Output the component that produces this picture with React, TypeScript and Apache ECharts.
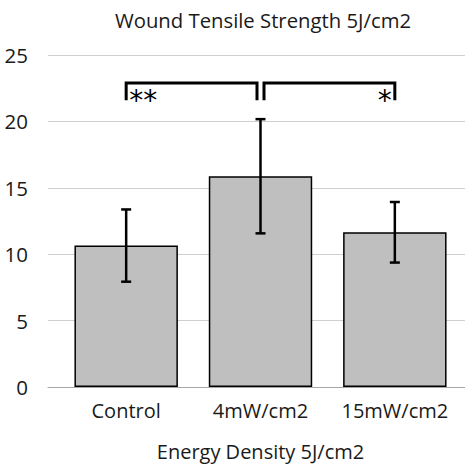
import React, { useEffect, useRef } from 'react';
import * as echarts from 'echarts';

const categories = ['Control', '4mW/cm2', '15mW/cm2'];
const means = [10.65, 15.87, 11.65];
const errors = [2.72, 4.3, 2.28];
const yMin = 0;
const yMax = 25;
const yStep = 5;
// significance brackets
const bracketFrom = [0, 1];
const bracketTo = [1, 2];
const bracketTop = [22.9, 22.9];
const bracketBottom = [21.6, 21.6];
const bracketLabels = ['**', '*'];
const titleText = 'Wound Tensile Strength 5J/cm2';
const xAxisTitle = 'Energy Density 5J/cm2';

const FONT = 'Open Sans';
const TEXT_COLOR = '#1a1a1a';

export default function App() {
  const ref = useRef<HTMLDivElement>(null);
  useEffect(() => {
    if (!ref.current) return;
    const chart = echarts.init(ref.current, undefined, { renderer: 'svg' });
    const errData = categories.map((_, i) => [i, means[i] - errors[i], means[i] + errors[i]]);
    const brData = bracketFrom.map((f, i) => [f, bracketTo[i], bracketTop[i], bracketBottom[i]]);
    const option: any = {
      animation: false,
      title: {
        text: titleText,
        left: 258,
        textAlign: 'center',
        top: 5,
        textStyle: { fontFamily: FONT, fontSize: 20.3, fontWeight: 'normal', color: TEXT_COLOR },
      },
      grid: [
        { left: 59, right: 3, top: 55, bottom: 82 },
        { left: 48, right: 0, top: 55, bottom: 82 },
      ],
      xAxis: [
        {
          gridIndex: 0,
          type: 'category',
          data: categories,
          axisLine: { show: false },
          axisTick: { show: false },
          axisLabel: { interval: 0, hideOverlap: false, margin: 13, fontFamily: FONT, fontSize: 20, color: TEXT_COLOR },
          name: xAxisTitle,
          nameLocation: 'middle',
          nameGap: 54,
          nameTextStyle: { fontFamily: FONT, fontSize: 20, color: TEXT_COLOR },
        },
        {
          gridIndex: 1,
          type: 'category',
          data: [''],
          axisLine: { show: true, lineStyle: { color: '#a6a6a6', width: 1 } },
          axisTick: { show: false },
          axisLabel: { show: false },
        },
      ],
      yAxis: [
        { gridIndex: 0, type: 'value', min: yMin, max: yMax, interval: yStep, show: false, splitLine: { show: false } },
        {
          gridIndex: 1,
          type: 'value',
          min: yMin,
          max: yMax,
          interval: yStep,
          axisLine: { show: false },
          axisTick: { show: false },
          axisLabel: { margin: 20, fontFamily: FONT, fontSize: 20.5, color: TEXT_COLOR },
          splitLine: { lineStyle: { color: '#cfcfcf', width: 1.2 } },
        },
      ],
      series: [
        {
          type: 'bar',
          xAxisIndex: 0,
          yAxisIndex: 0,
          data: means,
          barWidth: '77%',
          itemStyle: { color: '#bfbfbf', borderColor: '#000', borderWidth: 1.5 },
          z: 3,
        },
        {
          type: 'custom',
          xAxisIndex: 0,
          yAxisIndex: 0,
          data: errData,
          z: 5,
          encode: { x: 0, y: [1, 2] },
          renderItem: (params: any, api: any) => {
            const i = api.value(0);
            const lo = api.coord([i, api.value(1)]);
            const hi = api.coord([i, api.value(2)]);
            const x = lo[0];
            const hw = 5;
            const st = { stroke: '#000', lineWidth: 2.5 };
            return {
              type: 'group',
              children: [
                { type: 'line', shape: { x1: x, y1: lo[1], x2: x, y2: hi[1] }, style: st },
                { type: 'line', shape: { x1: x - hw, y1: lo[1], x2: x + hw, y2: lo[1] }, style: st },
                { type: 'line', shape: { x1: x - hw, y1: hi[1], x2: x + hw, y2: hi[1] }, style: st },
              ],
            };
          },
        },
        {
          type: 'custom',
          xAxisIndex: 0,
          yAxisIndex: 0,
          data: brData,
          z: 6,
          encode: { x: [0, 1], y: [2, 3] },
          renderItem: (params: any, api: any) => {
            const idx = params.dataIndex;
            const f = api.value(0);
            const t = api.value(1);
            const top = api.coord([f, api.value(2)])[1];
            const bot = api.coord([f, api.value(3)])[1];
            const sharedLeft = bracketTo.indexOf(f) >= 0;
            const sharedRight = bracketFrom.indexOf(t) >= 0;
            const xL = api.coord([f, 0])[0] + (sharedLeft ? 3.5 : 0);
            const xR = api.coord([t, 0])[0] - (sharedRight ? 3.5 : 0);
            const labelLeft = sharedRight && !sharedLeft;
            return {
              type: 'group',
              children: [
                {
                  type: 'polyline',
                  shape: { points: [[xL, bot], [xL, top], [xR, top], [xR, bot]] },
                  style: { stroke: '#000', lineWidth: 3, fill: 'none', lineJoin: 'miter' },
                },
                {
                  type: 'text',
                  style: {
                    text: bracketLabels[idx],
                    x: labelLeft ? xL + 3 : xR - 3,
                    y: top + 4,
                    align: labelLeft ? 'left' : 'right',
                    verticalAlign: 'top',
                    fontFamily: 'DejaVu Sans',
                    fontSize: 28,
                    fill: '#000',
                  },
                },
              ],
            };
          },
        },
      ],
    };
    chart.setOption(option);
    return () => chart.dispose();
  }, []);
  return <div ref={ref} style={{ position: 'fixed', left: 0, top: 0, width: 465, height: 469, background: '#fff' }} />;
}
